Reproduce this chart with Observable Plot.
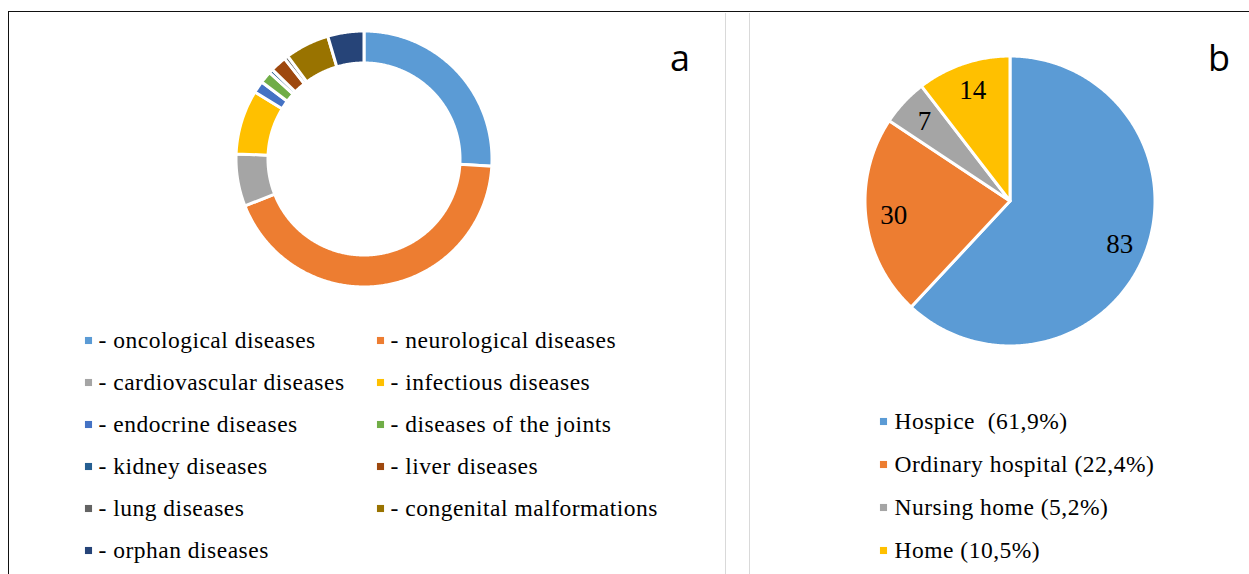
<!DOCTYPE html>
<html>
<head>
<meta charset="utf-8">
<script src="https://cdn.jsdelivr.net/npm/d3@7"></script>
<script src="https://cdn.jsdelivr.net/npm/@observablehq/plot@0.6"></script>
<style>
  html, body { margin: 0; padding: 0; background: #fff; }
  #page { position: relative; width: 1249px; height: 574px; overflow: hidden; background: #fff; }
  #page > * { position: absolute; }
  .rule-top { left: 8px; top: 11px; width: 1241px; height: 0; border-top: 1.5px solid #111; }
  .rule-left { left: 8px; top: 11px; width: 0; height: 563px; border-left: 1.5px solid #111; }
  .sep { top: 13px; height: 561px; width: 0; border-left: 1.5px solid #d9d9d9; }
  .letter { width: 40px; text-align: center; font-family: "Open Sans", sans-serif; font-size: 36px; line-height: 1; color: #000; }
  svg.legend text { letter-spacing: 0.5px; }
</style>
</head>
<body>
<div id="page"></div>
<script>
// Panel a: diagnoses of patients
const diagnoses = [
  "oncological diseases", "neurological diseases",
  "cardiovascular diseases", "infectious diseases",
  "endocrine diseases", "diseases of the joints",
  "kidney diseases", "liver diseases",
  "lung diseases", "congenital malformations",
  "orphan diseases"
];
const diagnosisCounts = [51, 85, 13, 16, 3, 3, 1, 4, 1, 11, 9];
const diagnosisColors = [
  "#5B9BD5", "#ED7D31", "#A5A5A5", "#FFC000", "#4472C4", "#70AD47",
  "#255E91", "#9E480E", "#636363", "#997300", "#264478"
];

// Panel b: place of care
const places = ["Hospice", "Ordinary hospital", "Nursing home", "Home"];
const placeCounts = [83, 30, 7, 14];
const placeLegend = ["Hospice\u00a0 (61,9%)", "Ordinary hospital (22,4%)", "Nursing home (5,2%)", "Home (10,5%)"];
const placeColors = ["#5B9BD5", "#ED7D31", "#A5A5A5", "#FFC000"];

const serif = "'Liberation Serif', 'Times New Roman', serif";
const bare = {background: "transparent", overflow: "visible"};

// Annular sectors (inner radius 0 gives pie slices) traced as x1/y1 → x2/y2 bands,
// angles clockwise from twelve o'clock as laid out by d3.pie.
function sectors(names, values, inner, outer) {
  const arcs = d3.pie().sort(null).value(d => d)(values);
  const rows = [];
  arcs.forEach((a, i) => {
    const n = Math.max(2, Math.ceil((a.endAngle - a.startAngle) / (Math.PI / 360)));
    for (let k = 0; k <= n; ++k) {
      const t = a.startAngle + (a.endAngle - a.startAngle) * k / n;
      rows.push({
        name: names[i],
        x1: inner * Math.sin(t), y1: inner * Math.cos(t),
        x2: outer * Math.sin(t), y2: outer * Math.cos(t)
      });
    }
  });
  return {arcs, rows};
}

const page = document.getElementById("page");
function place(node, left, top) {
  node.style.left = left + "px";
  node.style.top = top + "px";
  page.appendChild(node);
  return node;
}

// ---- a: donut of diagnoses ----
const ring = sectors(diagnoses, diagnosisCounts, 96, 128);
const donut = Plot.plot({
  width: 264, height: 264, margin: 0, style: bare,
  x: {domain: [-132, 132], axis: null},
  y: {domain: [-132, 132], axis: null},
  color: {domain: diagnoses, range: diagnosisColors},
  marks: [
    Plot.area(ring.rows, {x1: "x1", y1: "y1", x2: "x2", y2: "y2", z: "name", fill: "name",
      stroke: "white", strokeWidth: 3})
  ]
});
place(donut, 364 - 132, 159 - 132);

// two-column legend, filled row by row
const legendA = Plot.plot({
  width: 720, height: 258, margin: 0, style: bare, className: "legend",
  x: {type: "point", domain: [0, 1], range: [88, 380], padding: 0, axis: null},
  y: {type: "point", domain: d3.range(6), range: [22, 236], padding: 0, axis: null},
  color: {domain: diagnoses, range: diagnosisColors},
  marks: [
    Plot.dot(diagnoses, {x: (d, i) => i % 2, y: (d, i) => Math.floor(i / 2), fill: d => d,
      symbol: "square", r: 4}),
    Plot.text(diagnoses, {x: (d, i) => i % 2, y: (d, i) => Math.floor(i / 2), text: d => "- " + d,
      textAnchor: "start", dx: 10, fontSize: 23.5, fontFamily: serif, fill: "#000"})
  ]
});
legendA.classList.add("legend");
place(legendA, 0, 316);

// ---- b: pie of places ----
const R = 145;
const pie = sectors(places, placeCounts, 0, R);
const labelRows = pie.arcs.map((a, i) => {
  const t = (a.startAngle + a.endAngle) / 2;
  return {value: placeCounts[i], x: 0.81 * R * Math.sin(t), y: 0.81 * R * Math.cos(t)};
});
const pieB = Plot.plot({
  width: 300, height: 300, margin: 0, style: bare,
  x: {domain: [-150, 150], axis: null},
  y: {domain: [-150, 150], axis: null},
  color: {domain: places, range: placeColors},
  marks: [
    Plot.area(pie.rows, {x1: "x1", y1: "y1", x2: "x2", y2: "y2", z: "name", fill: "name",
      stroke: "white", strokeWidth: 3}),
    Plot.text(labelRows, {x: "x", y: "y", text: d => String(d.value),
      fontSize: 27, fontFamily: serif, fill: "#000"})
  ]
});
place(pieB, 1010 - 150, 201 - 150);

const legendB = Plot.plot({
  width: 499, height: 174, margin: 0, style: bare,
  x: {type: "point", domain: [0], range: [133, 133], padding: 0, axis: null},
  y: {type: "point", domain: d3.range(4), range: [21, 150], padding: 0, axis: null},
  color: {domain: places, range: placeColors},
  marks: [
    Plot.dot(places, {x: () => 0, y: (d, i) => i, fill: d => d, symbol: "square", r: 4}),
    Plot.text(placeLegend, {x: () => 0, y: (d, i) => i, text: d => d,
      textAnchor: "start", dx: 11, fontSize: 23.5, fontFamily: serif, fill: "#000"})
  ]
});
legendB.classList.add("legend");
place(legendB, 750, 400);

// ---- panel letters and frame ----
function letter(ch, cx) {
  const d = document.createElement("div");
  d.className = "letter";
  d.textContent = ch;
  return place(d, cx - 20, 40);
}
letter("a", 680);
letter("b", 1219);

for (const left of [725, 749]) {
  const d = document.createElement("div");
  d.className = "sep";
  place(d, left, 13);
}
for (const cls of ["rule-top", "rule-left"]) {
  const d = document.createElement("div");
  d.className = cls;
  page.appendChild(d);
}
</script>
</body>
</html>
